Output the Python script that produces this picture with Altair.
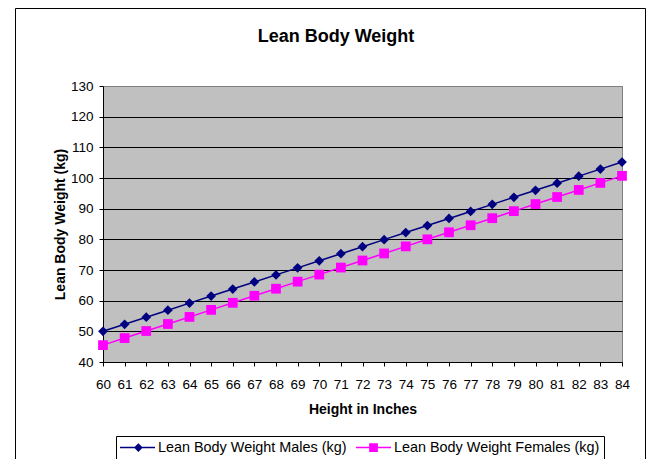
import altair as alt
import pandas as pd

heights = [60, 61, 62, 63, 64, 65, 66, 67, 68, 69, 70, 71, 72,
           73, 74, 75, 76, 77, 78, 79, 80, 81, 82, 83, 84]
males = [50.0, 52.3, 54.6, 56.9, 59.2, 61.5, 63.8, 66.1, 68.4, 70.7, 73.0, 75.3, 77.6,
         79.9, 82.2, 84.5, 86.8, 89.1, 91.4, 93.7, 96.0, 98.3, 100.6, 102.9, 105.2]
females = [45.5, 47.8, 50.1, 52.4, 54.7, 57.0, 59.3, 61.6, 63.9, 66.2, 68.5, 70.8, 73.1,
           75.4, 77.7, 80.0, 82.3, 84.6, 86.9, 89.2, 91.5, 93.8, 96.1, 98.4, 100.7]
y_ticks = [40, 50, 60, 70, 80, 90, 100, 110, 120, 130]
series_names = ["Lean Body Weight Males (kg)", "Lean Body Weight Females (kg)"]
series_colors = ["#000080", "#FF00FF"]

rows = []
for h, m, f in zip(heights, males, females):
    rows.append({"height": h, "weight": m, "series": series_names[0]})
    rows.append({"height": h, "weight": f, "series": series_names[1]})
df = pd.DataFrame(rows)

# legend-only rows, outside the visible y domain and clipped away
legend_df = pd.DataFrame({"height": [60, 60], "weight": [1000, 1000], "series": series_names})

FONT = "Liberation Sans"
# legend symbols: a line segment with the marker on it (unit coordinates)
DIAMOND = "M-1,-0.045H1V0.045H-1ZM0.05,-0.25L0.3,0L0.05,0.25L-0.2,0Z"
SQUARE = "M-1,-0.045H1V0.045H-1ZM-0.25,-0.25H0.25V0.25H-0.25Z"

legend = alt.Legend(
    title=None, orient="none", legendX=13, legendY=350, direction="horizontal",
    strokeColor="black", fillColor="white", padding=4,
    symbolSize=1225, symbolStrokeWidth=0, clipHeight=15,
    labelFont=FONT, labelFontSize=14.4, labelColor="black", labelOffset=3,
    labelLimit=400, columnPadding=9,
)

x_enc = alt.X(
    "height:Q",
    scale=alt.Scale(domain=[60, 84], nice=False, zero=False),
    axis=alt.Axis(values=heights, title="Height in Inches", grid=False,
                  labelFlush=False, labelOverlap=False, tickSize=4,
                  tickColor="black", domainColor="black",
                  labelFont=FONT, labelFontSize=13.5, labelColor="black", labelPadding=11,
                  titleFont=FONT, titleFontSize=14, titleFontWeight="bold",
                  titleColor="black", titleY=51, titleBaseline="alphabetic"),
)
y_enc = alt.Y(
    "weight:Q",
    scale=alt.Scale(domain=[40, 130], nice=False, zero=False),
    axis=alt.Axis(values=y_ticks, title="Lean Body Weight (kg)", grid=True,
                  gridColor={"condition": {"test": "datum.value === 130", "value": "#808080"},
                             "value": "black"},
                  gridWidth=1, gridOpacity=1, tickSize=4,
                  tickColor="black", domainColor="black",
                  labelFont=FONT, labelFontSize=13.5, labelColor="black", labelPadding=6,
                  titleFont=FONT, titleFontSize=14, titleFontWeight="bold",
                  titleColor="black", titleX=-39, titleY=138, titleAngle=270,
                  titleBaseline="alphabetic"),
)
color_scale = alt.Scale(domain=series_names, range=series_colors)
shape_scale = alt.Scale(domain=series_names, range=[DIAMOND, SQUARE])

# legend holder first so its legend settings win when legends are merged
legend_layer = alt.Chart(legend_df).mark_point(filled=True, opacity=1, clip=True).encode(
    x=x_enc, y=y_enc,
    color=alt.Color("series:N", scale=color_scale, legend=legend),
    shape=alt.Shape("series:N", scale=shape_scale, legend=legend),
)

lines = alt.Chart(df).mark_line(strokeWidth=1.5).encode(
    x=x_enc, y=y_enc, color=alt.Color("series:N", scale=color_scale))

male_pts = alt.Chart(df).transform_filter(
    alt.datum.series == series_names[0]
).mark_point(filled=True, opacity=1, shape="diamond", size=95).encode(
    x=x_enc, y=y_enc, color=alt.Color("series:N", scale=color_scale))

female_pts = alt.Chart(df).transform_filter(
    alt.datum.series == series_names[1]
).mark_point(filled=True, opacity=1, shape="square", size=95).encode(
    x=x_enc, y=y_enc, color=alt.Color("series:N", scale=color_scale))

frame = alt.Chart(pd.DataFrame({"f": [0]})).mark_rect(
    fill="transparent", stroke="black", strokeWidth=1
).encode(x=alt.value(-87.5), x2=alt.value(542.5), y=alt.value(-77.5), y2=alt.value(420))

chart = alt.layer(frame, legend_layer, lines, male_pts, female_pts).properties(
    width=519, height=276, background="white",
    title=alt.TitleParams("Lean Body Weight", font=FONT, fontSize=18, fontWeight="bold",
                          color="black", anchor="middle", frame="group", dx=-26.5,
                          offset=-51.5, baseline="alphabetic"),
    padding={"left": 95, "top": 78, "right": 24, "bottom": 97},
    autosize=alt.AutoSizeParams(type="none"),
).configure_view(fill="#C0C0C0", stroke="#808080", strokeWidth=1)

chart.save("out.html", embed_options={"renderer": "svg", "actions": False})
